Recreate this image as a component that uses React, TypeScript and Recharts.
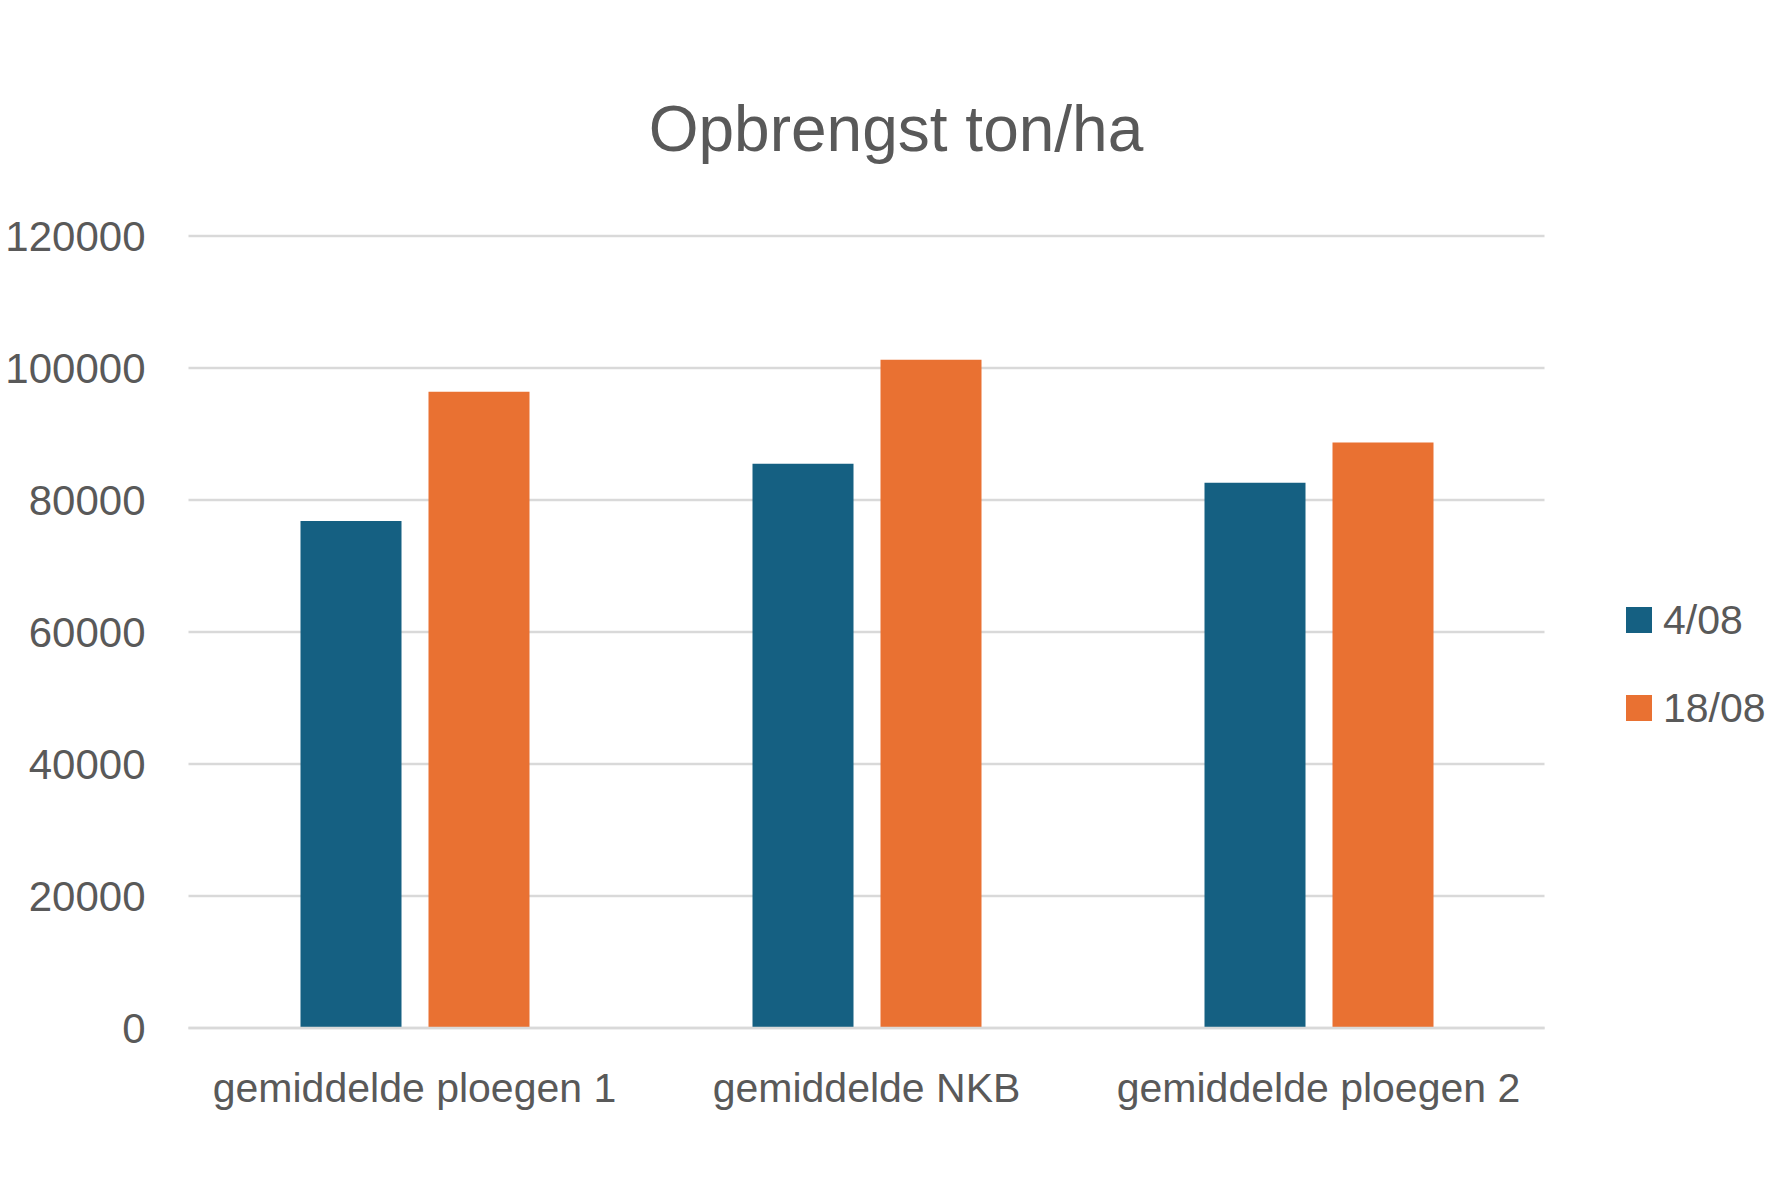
import React from 'react';
import { BarChart, Bar, XAxis, YAxis, CartesianGrid, Legend } from 'recharts';

const categories = ['gemiddelde ploegen 1', 'gemiddelde NKB', 'gemiddelde ploegen 2'];
const series1Name = '4/08';
const series1Values = [76800, 85500, 82600];
const series2Name = '18/08';
const series2Values = [96400, 101250, 88700];
const yTicks = [0, 20000, 40000, 60000, 80000, 100000, 120000];

const FONT = '"Liberation Sans", Arial, sans-serif';
const TEXT = '#595959';
const BLUE = '#156082';
const ORANGE = '#E97132';
const GRID = '#D9D9D9';

const seriesOrder = [series1Name, series2Name];

const data = categories.map((name, i) => ({
  name,
  s1: series1Values[i],
  s2: series2Values[i],
}));

const LegendContent = ({ payload }: any) => {
  // keep the legend in series order (recharts sorts by label otherwise)
  const items = [...(payload || [])].sort(
    (a: any, b: any) => seriesOrder.indexOf(a.value) - seriesOrder.indexOf(b.value),
  );
  return (
    <div>
      {items.map((entry: any, i: number) => (
        <div key={i} style={{ display: 'flex', alignItems: 'center', height: 88 }}>
          <div style={{ width: 26, height: 26, background: entry.color, marginRight: 11 }} />
          <span style={{ fontFamily: FONT, fontSize: 41, color: TEXT, lineHeight: 1 }}>{entry.value}</span>
        </div>
      ))}
    </div>
  );
};

export default function App() {
  return (
    <div style={{ position: 'absolute', left: 0, top: 0, width: 1772, height: 1181, background: '#fff' }}>
      <div
        style={{
          position: 'absolute', left: 496, top: 97, width: 800, textAlign: 'center',
          fontFamily: FONT, fontSize: 64, lineHeight: 1, color: TEXT, zIndex: 2,
        }}
      >
        Opbrengst ton/ha
      </div>
      <BarChart
        width={1772}
        height={1181}
        data={data}
        margin={{ top: 236, right: 227.5, bottom: 0, left: 0 }}
        barSize={101}
        barGap={27}
      >
        <CartesianGrid stroke={GRID} strokeWidth={2.5} vertical={false} />
        <XAxis
          dataKey="name"
          height={153}
          axisLine={{ stroke: GRID, strokeWidth: 2.5 }}
          tickLine={false}
          tickSize={0}
          tickMargin={45}
          interval={0}
          tick={{ fontFamily: FONT, fontSize: 41, fill: TEXT }}
        />
        <YAxis
          width={188.5}
          domain={[0, 120000]}
          ticks={yTicks}
          axisLine={false}
          tickLine={false}
          tickSize={0}
          tickMargin={43}
          tick={{ fontFamily: FONT, fontSize: 42, fill: TEXT }}
        />
        <Legend
          layout="vertical"
          align="center"
          verticalAlign="middle"
          content={<LegendContent />}
          wrapperStyle={{ left: 1626, top: 576, width: 150 }}
        />
        <Bar dataKey="s1" name={series1Name} fill={BLUE} isAnimationActive={false} />
        <Bar dataKey="s2" name={series2Name} fill={ORANGE} isAnimationActive={false} />
      </BarChart>
    </div>
  );
}
